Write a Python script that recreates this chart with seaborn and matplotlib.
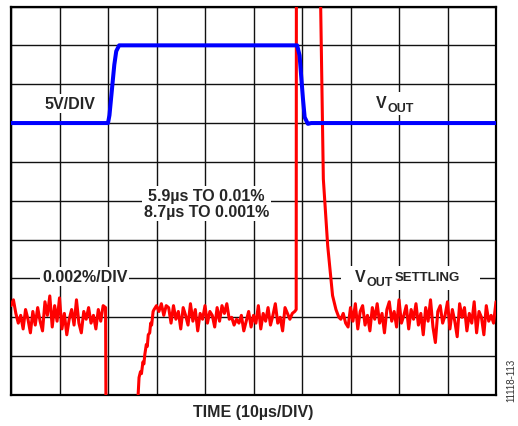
import matplotlib
matplotlib.use("Agg")
import matplotlib.pyplot as plt
from matplotlib.patches import Rectangle
import numpy as np
import pandas as pd
import seaborn as sns

# blue trace: output step, in divisions (5V/DIV), time in us
blue_time = [0, 20.0, 20.3, 21.3, 21.7, 22.3, 59.0, 59.5, 60.2, 60.55, 61.2, 61.9, 100]
blue_level = [7.0, 7.0, 7.2, 8.5, 8.85, 9.0, 9.0, 8.74, 7.62, 7.15, 6.98, 7.0, 7.0]

# red trace: settling error (0.002%/DIV), noisy segments sampled every 0.5 us
noise_a = [2.30, 2.45, 2.10, 1.85, 2.05, 1.70, 2.20, 1.95, 1.60, 2.15,
           1.80, 2.25, 1.90, 1.65, 2.40, 2.05, 2.55, 1.75, 2.30, 1.90,
           2.50, 1.70, 2.10, 1.55, 1.95, 2.20, 1.80, 2.45, 1.85, 1.60,
           2.15, 1.95, 2.25, 1.85, 2.05, 1.70, 2.20, 1.90, 2.30, 2.25]
recover_time = [19.6, 26.0, 26.4, 26.7, 26.9, 27.2, 27.4, 27.6, 27.9, 28.1, 28.3, 28.6, 28.8, 29.0, 29.3]
recover_level = [-1.0, -0.5, 0.45, 0.6, 0.55, 0.85, 0.8, 1.05, 1.3, 1.25, 1.55, 1.6, 1.85, 1.8, 2.15]
noise_b = [2.20, 2.30, 2.15, 2.35, 2.05, 2.30, 2.25, 1.85, 2.30, 1.95,
           2.15, 1.70, 2.25, 2.05, 1.80, 2.35, 1.90, 2.20, 1.65, 2.10,
           1.95, 2.30, 1.85, 2.15, 2.05, 1.75, 2.25, 1.90, 2.30, 2.10,
           2.35, 1.95, 2.00, 1.80, 1.95, 1.85, 2.05, 1.65, 1.90, 2.15,
           1.75, 2.05, 1.85, 2.30, 1.70, 2.10, 1.90, 2.25, 1.80, 2.05,
           2.35, 1.85, 2.00, 1.65, 2.25, 2.10, 1.95, 2.10, 2.15]
spike_time = [58.8, 58.85, 63.85, 64.4, 65.3, 65.9, 66.3, 67.0, 67.6]
spike_level = [2.2, 12.0, 10.0, 5.56, 3.84, 3.07, 2.56, 2.2, 2.0]
noise_c = [1.95, 2.10, 1.85, 1.75, 2.25, 1.90, 2.35, 1.70, 2.15, 2.30,
           1.80, 2.05, 1.65, 2.25, 1.95, 2.35, 1.85, 2.10, 1.60, 2.20,
           2.40, 1.90, 2.15, 1.75, 2.45, 1.85, 2.05, 2.30, 1.70, 2.20,
           1.95, 2.35, 1.80, 2.10, 1.55, 2.25, 1.90, 2.45, 1.75, 1.35,
           2.15, 2.30, 1.85, 2.05, 2.40, 1.70, 2.20, 1.90, 1.50, 2.35,
           2.00, 2.25, 1.65, 2.10, 1.85, 2.40, 1.60, 2.15, 2.00, 1.55,
           2.30, 1.90, 2.05, 1.85, 2.40]

red_time = (list(np.linspace(0, 19.5, len(noise_a))) + recover_time
            + list(np.linspace(29.5, 58.5, len(noise_b))) + spike_time
            + list(np.linspace(68, 100, len(noise_c))))
red_level = noise_a + recover_level + noise_b + spike_level + noise_c

blue = pd.DataFrame({"time": blue_time, "level": blue_level})
red = pd.DataFrame({"time": red_time, "level": red_level})

sns.set_style("white")
plt.rcParams["font.family"] = ["Liberation Sans", "DejaVu Sans"]

W, H = 518, 427
fig = plt.figure(figsize=(W / 100, H / 100), dpi=100)
ax = fig.add_axes([11 / W, (H - 396) / H, 485 / W, 388.5 / H])

sns.lineplot(data=red, x="time", y="level", sort=False, estimator=None,
             color="#ff0000", lw=2.2, ax=ax, zorder=3)
sns.lineplot(data=blue, x="time", y="level", sort=False, estimator=None,
             color="#0000ff", lw=2.9, ax=ax, zorder=4)

ax.set_xlim(0, 100)
ax.set_ylim(0, 10)
ax.set_xticks(np.arange(0, 101, 10))
ax.set_yticks(np.arange(0, 11, 1))
ax.set_xticklabels([])
ax.set_yticklabels([])
ax.tick_params(length=0)
ax.grid(True, color="#111111", lw=1.0)
ax.set_axisbelow(True)
for s in ax.spines.values():
    s.set_color("black")
    s.set_linewidth(1.6)
ax.set_xlabel("")
ax.set_ylabel("")

box = dict(facecolor="white", edgecolor="none", pad=1.5)
kw = dict(fontsize=11.5, fontweight="bold", ha="center", va="center", zorder=6)
ax.text(12.2, 7.5, "5V/DIV", bbox=box, **kw)
ax.text(40.3, 4.93, "5.9\u00b5s TO 0.01%\n8.7\u00b5s TO 0.001%", bbox=box,
        linespacing=1.05, **kw)
ax.text(15.2, 3.04, "0.002%/DIV", bbox=box, **kw)

# V_OUT labels: V with a lowered, smaller OUT
sub = dict(fontweight="bold", ha="center", va="center", zorder=6)
ax.add_patch(Rectangle((75.0, 7.2), 10.0, 0.6, facecolor="white",
                       edgecolor="none", zorder=5))
ax.text(76.3, 7.52, "V", fontsize=11.5, **sub)
ax.text(80.4, 7.38, "OUT", fontsize=9, **sub)

ax.add_patch(Rectangle((68.0, 2.7), 28.7, 0.62, facecolor="white",
                       edgecolor="none", zorder=5))
ax.text(71.9, 3.05, "V", fontsize=11.5, **sub)
ax.text(76.0, 2.91, "OUT", fontsize=9, **sub)
ax.text(85.8, 3.03, "SETTLING", fontsize=9.5, **sub)

fig.text(253 / W, 1 - 413 / H, "TIME (10\u00b5s/DIV)", fontsize=11.5,
         fontweight="bold", ha="center", va="center")
fig.text(511 / W, 1 - 380 / H, "11118-113", fontsize=7, color="#333333",
         rotation=90, ha="center", va="center")

fig.savefig("out.png", dpi=100)
